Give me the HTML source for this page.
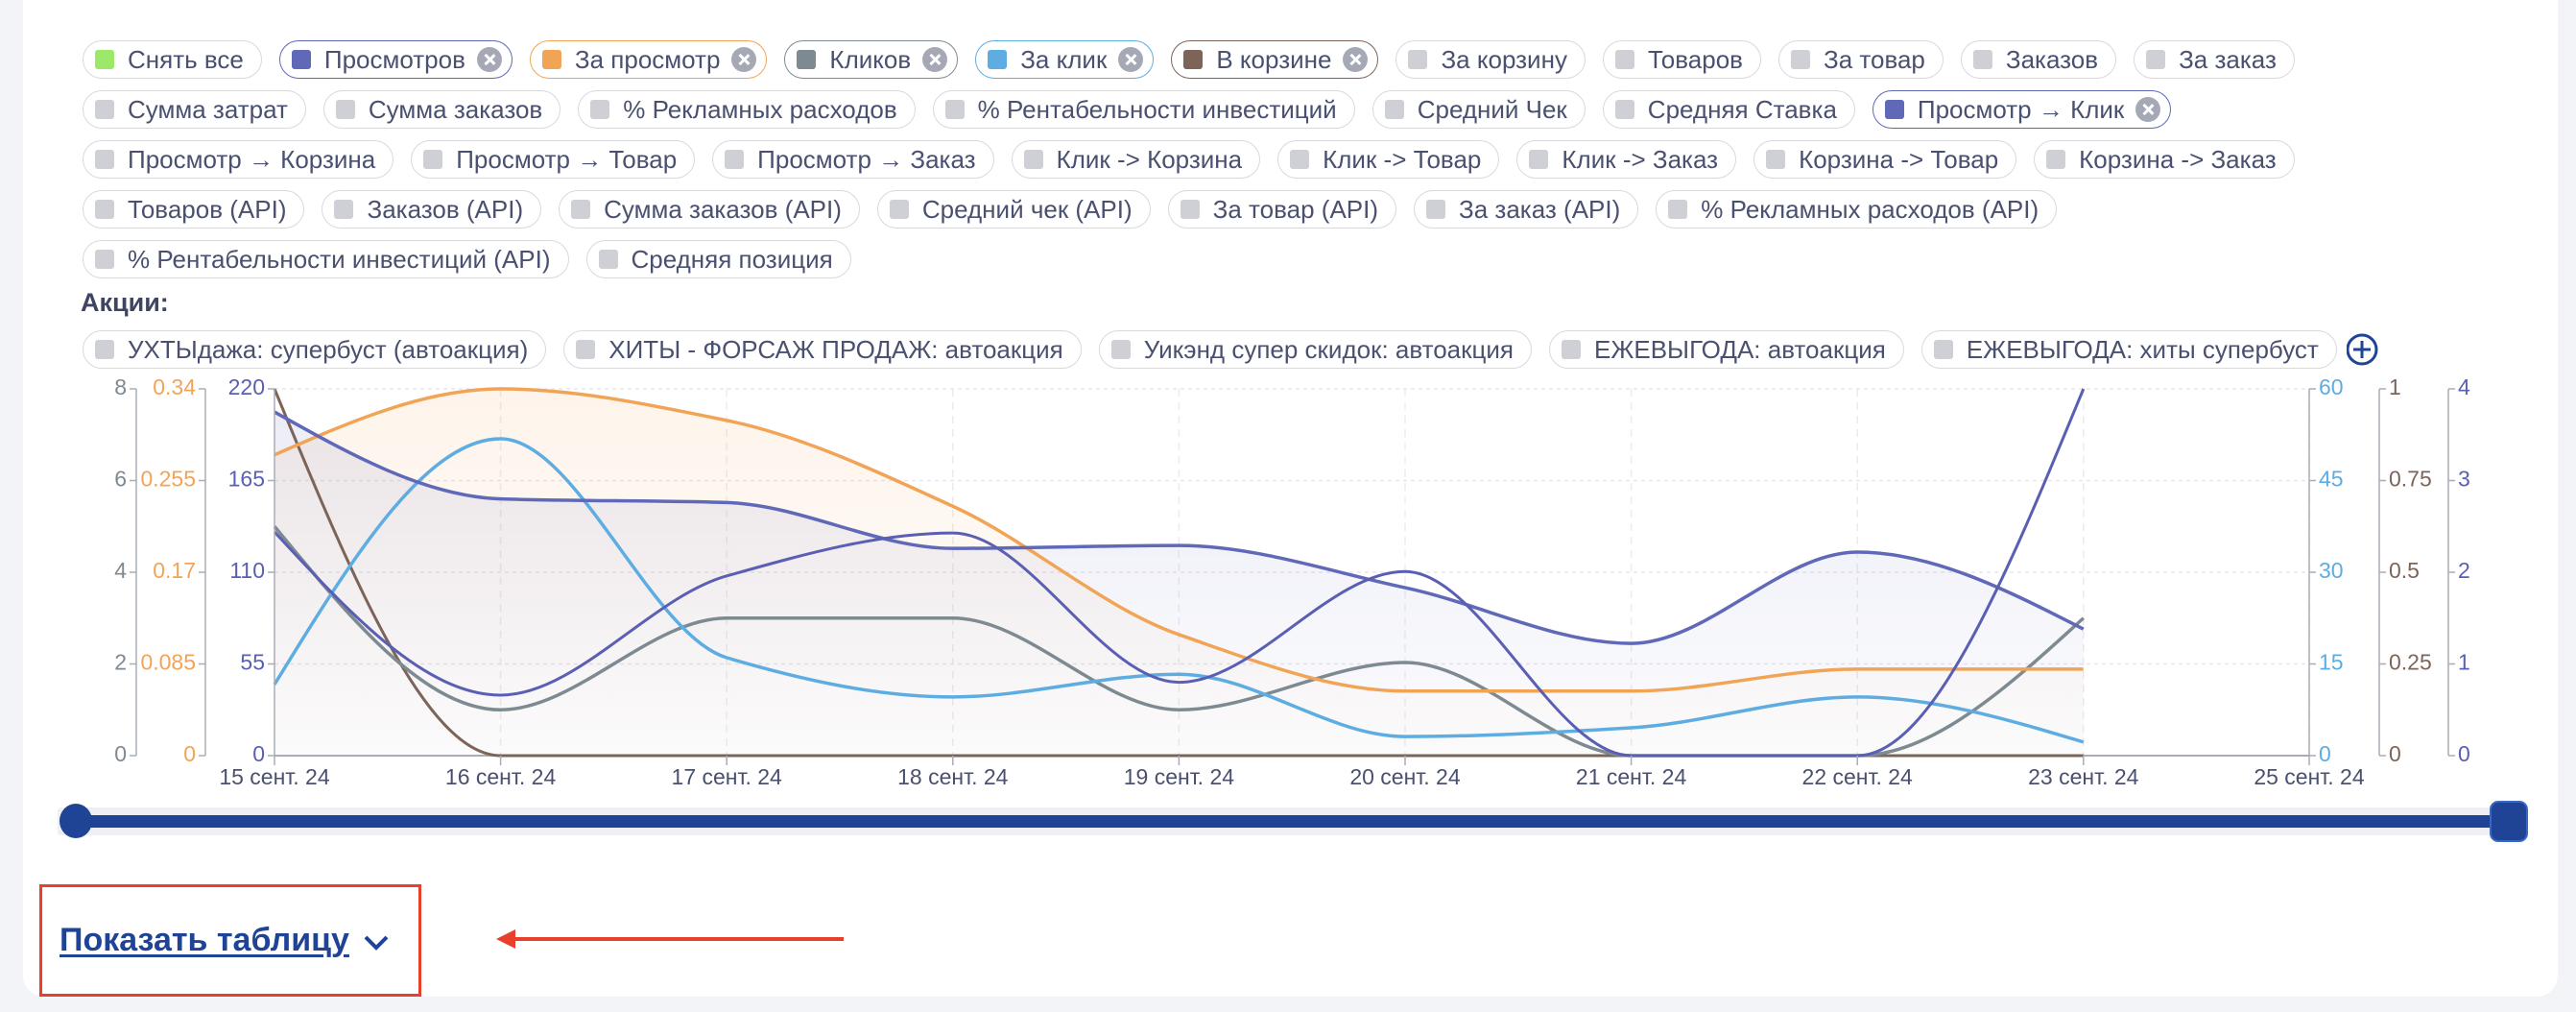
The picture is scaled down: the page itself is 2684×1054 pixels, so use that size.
<!DOCTYPE html>
<html><head><meta charset="utf-8"><style>
html,body{margin:0;padding:0}
body{width:2684px;height:1054px;background:#f3f4f7;position:relative;overflow:hidden;font-family:"Liberation Sans","DejaVu Sans",sans-serif}
.card{position:absolute;left:24px;top:-20px;width:2641px;height:1058px;background:#fff;border-radius:22px}
.row{position:absolute;left:86px;display:flex;gap:18px;height:40px}
.chip{height:38px;border:1.5px solid #d8d9df;border-radius:20px;display:flex;align-items:center;padding:0 18px 0 12px;font-size:26px;color:#4a5070;white-space:nowrap;background:#fff}
.sq{width:20px;height:20px;border-radius:3px;background:#cfd0d5;margin-right:14px;flex:none}
.x{width:26px;height:26px;border-radius:50%;background:#a5a9b5;margin-left:12px;margin-right:-8px;position:relative;flex:none}
.x:before,.x:after{content:"";position:absolute;left:12px;top:6px;width:2.5px;height:14px;background:#fff;transform:rotate(45deg)}
.x:after{transform:rotate(-45deg)}
</style></head><body>
<div class="card"></div>

<div class="row" style="top:42px">
<div class="chip"><span class="sq" style="background:#9ce868"></span>Снять все</div>
<div class="chip" style="border-color:#6068b8"><span class="sq" style="background:#6068b8"></span>Просмотров<span class="x"></span></div>
<div class="chip" style="border-color:#f2a456"><span class="sq" style="background:#f2a456"></span>За просмотр<span class="x"></span></div>
<div class="chip" style="border-color:#7d8a91"><span class="sq" style="background:#7d8a91"></span>Кликов<span class="x"></span></div>
<div class="chip" style="border-color:#5dade2"><span class="sq" style="background:#5dade2"></span>За клик<span class="x"></span></div>
<div class="chip" style="border-color:#7d6459"><span class="sq" style="background:#7d6459"></span>В корзине<span class="x"></span></div>
<div class="chip"><span class="sq"></span>За корзину</div>
<div class="chip"><span class="sq"></span>Товаров</div>
<div class="chip"><span class="sq"></span>За товар</div>
<div class="chip"><span class="sq"></span>Заказов</div>
<div class="chip"><span class="sq"></span>За заказ</div>
</div>
<div class="row" style="top:94px">
<div class="chip"><span class="sq"></span>Сумма затрат</div>
<div class="chip"><span class="sq"></span>Сумма заказов</div>
<div class="chip"><span class="sq"></span>% Рекламных расходов</div>
<div class="chip"><span class="sq"></span>% Рентабельности инвестиций</div>
<div class="chip"><span class="sq"></span>Средний Чек</div>
<div class="chip"><span class="sq"></span>Средняя Ставка</div>
<div class="chip" style="border-color:#6068b8"><span class="sq" style="background:#6068b8"></span>Просмотр → Клик<span class="x"></span></div>
</div>
<div class="row" style="top:146px">
<div class="chip"><span class="sq"></span>Просмотр → Корзина</div>
<div class="chip"><span class="sq"></span>Просмотр → Товар</div>
<div class="chip"><span class="sq"></span>Просмотр → Заказ</div>
<div class="chip"><span class="sq"></span>Клик -&gt; Корзина</div>
<div class="chip"><span class="sq"></span>Клик -&gt; Товар</div>
<div class="chip"><span class="sq"></span>Клик -&gt; Заказ</div>
<div class="chip"><span class="sq"></span>Корзина -&gt; Товар</div>
<div class="chip"><span class="sq"></span>Корзина -&gt; Заказ</div>
</div>
<div class="row" style="top:198px">
<div class="chip"><span class="sq"></span>Товаров (API)</div>
<div class="chip"><span class="sq"></span>Заказов (API)</div>
<div class="chip"><span class="sq"></span>Сумма заказов (API)</div>
<div class="chip"><span class="sq"></span>Средний чек (API)</div>
<div class="chip"><span class="sq"></span>За товар (API)</div>
<div class="chip"><span class="sq"></span>За заказ (API)</div>
<div class="chip"><span class="sq"></span>% Рекламных расходов (API)</div>
</div>
<div class="row" style="top:250px">
<div class="chip"><span class="sq"></span>% Рентабельности инвестиций (API)</div>
<div class="chip"><span class="sq"></span>Средняя позиция</div>
</div>
<div style="position:absolute;left:84px;top:300px;font-size:27px;font-weight:bold;color:#3f4460">Акции:</div>
<div class="row" style="top:344px">
<div class="chip"><span class="sq"></span>УХТЫдажа: супербуст (автоакция)</div>
<div class="chip"><span class="sq"></span>ХИТЫ - ФОРСАЖ ПРОДАЖ: автоакция</div>
<div class="chip"><span class="sq"></span>Уикэнд супер скидок: автоакция</div>
<div class="chip"><span class="sq"></span>ЕЖЕВЫГОДА: автоакция</div>
<div class="chip"><span class="sq"></span>ЕЖЕВЫГОДА: хиты супербуст</div>
<svg width="36" height="40" viewBox="0 0 36 40" style="margin-left:-8px"><circle cx="16" cy="20" r="15" fill="none" stroke="#1f4496" stroke-width="3"/><path d="M16 11v18M7 20h18" stroke="#1f4496" stroke-width="3"/></svg>
</div>

<svg id="ch" width="2684" height="1054" style="position:absolute;left:0;top:0"></svg>

<div style="position:absolute;left:41px;top:921px;width:392px;height:111px;border:3px solid #e8402a"></div>
<div style="position:absolute;left:62px;top:960px;font-size:34px;font-weight:bold;color:#1f4496;text-decoration:underline;text-underline-offset:4px">Показать таблицу</div>
<svg style="position:absolute;left:376px;top:970px" width="34" height="24"><path d="M5 6l11 11 11-11" fill="none" stroke="#1f4496" stroke-width="4"/></svg>
<svg style="position:absolute;left:515px;top:966px" width="370" height="26"><path d="M20 12H364" stroke="#e8402a" stroke-width="4"/><path d="M2 12L22 2V22Z" fill="#e8402a"/></svg>

<script>
var X0=286,DX=235.6,YT=405,YB=787,H=YB-YT;
var s='';
function L(x1,y1,x2,y2,st){s+='<line x1="'+x1+'" y1="'+y1+'" x2="'+x2+'" y2="'+y2+'" '+st+'/>';}
function T(x,y,t,c,a){s+='<text x="'+x+'" y="'+y+'" fill="'+c+'" font-size="23" font-family="Liberation Sans, sans-serif" text-anchor="'+(a||'end')+'" dominant-baseline="middle">'+t+'</text>';}
for(var i=0;i<4;i++){var y=YT+i*H/4;L(X0,y,2406,y,'stroke="#e6e7eb" stroke-width="1.5" stroke-dasharray="4 4"');}
for(var i=1;i<=9;i++){var x=X0+i*DX;L(x,YT,x,YB,'stroke="#ececf0" stroke-width="1.5" stroke-dasharray="8 6"');}
function path(f){var n=f.length,xs=[],ys=[];for(var i=0;i<n;i++){xs.push(X0+i*DX);ys.push(YB-f[i]*H);}
var d=[],m=[];for(var i=0;i<n-1;i++)d.push((ys[i+1]-ys[i])/DX);
for(var i=0;i<n;i++){if(i==0||i==n-1)m.push(0);else m.push((d[i-1]*d[i]>0)?(2*d[i-1]*d[i]/(d[i-1]+d[i])):0);}
m[0]=(3*d[0]-m[1])/2; m[n-1]=(3*d[n-2]-m[n-2])/2;
if(d[0]==0)m[0]=0; if(d[n-2]==0)m[n-1]=0;
var p='M'+xs[0]+','+ys[0];for(var i=0;i<n-1;i++){var h=DX/3;p+='C'+(xs[i]+h)+','+(ys[i]+m[i]*h)+' '+(xs[i+1]-h)+','+(ys[i+1]-m[i+1]*h)+' '+xs[i+1]+','+ys[i+1];}
return p;}
var orange=[0.82,1.0,0.914,0.68,0.33,0.176,0.176,0.236,0.236];
var views=[0.937,0.70,0.69,0.565,0.573,0.458,0.306,0.555,0.345];
var blue=[0.194,0.864,0.267,0.16,0.222,0.052,0.076,0.16,0.037];
var gray=[0.625,0.125,0.375,0.375,0.125,0.254,0,0,0.375];
var brown=[1,0,0,0,0,0,0,0,0];
var p2k=[0.61,0.165,0.49,0.607,0.2,0.502,0,0,1.0];
var XE=X0+8*DX;
s='<defs><linearGradient id="go" x1="0" y1="0" x2="0" y2="1"><stop offset="0" stop-color="#f2a456" stop-opacity="0.12"/><stop offset="1" stop-color="#f2a456" stop-opacity="0.01"/></linearGradient><linearGradient id="gp" x1="0" y1="0" x2="0" y2="1"><stop offset="0" stop-color="#6068b8" stop-opacity="0.12"/><stop offset="1" stop-color="#6068b8" stop-opacity="0.02"/></linearGradient></defs>'+s;
s+='<path d="'+path(orange)+'L'+XE+','+YB+'L'+X0+','+YB+'Z" fill="url(#go)"/>';
s+='<path d="'+path(views)+'L'+XE+','+YB+'L'+X0+','+YB+'Z" fill="url(#gp)"/>';
L(X0,YB,2406,YB,'stroke="#a9adb5" stroke-width="2"');
function line(f,c,w){s+='<path d="'+path(f)+'" fill="none" stroke="'+c+'" stroke-width="'+w+'"/>';}
line(brown,'#7d6459',3);line(gray,'#7d8a91',3.5);line(blue,'#5dade2',3.5);line(orange,'#f2a456',3.5);line(views,'#6068b8',3.5);line(p2k,'#5a5fb3',3);
function axis(x,side,labels,c){L(x,YT,x,YB,'stroke="#a9adb5" stroke-width="1.5"');for(var i=0;i<5;i++){var y=YB-i*H/4;L(x,y,x+(side<0?-7:7),y,'stroke="#a9adb5" stroke-width="1.5"');T(side<0?x-10:x+10,y,labels[i],c,side<0?'end':'start');}}
axis(142,-1,['0','2','4','6','8'],'#7d8a91');
axis(214,-1,['0','0.085','0.17','0.255','0.34'],'#f2a456');
axis(286,-1,['0','55','110','165','220'],'#5a5fb3');
axis(2406,1,['0','15','30','45','60'],'#5dade2');
axis(2479,1,['0','0.25','0.5','0.75','1'],'#7d6459');
axis(2551,1,['0','1','2','3','4'],'#5a5fb3');
var dates=['15','16','17','18','19','20','21','22','23'];
for(var i=0;i<9;i++){var x=X0+i*DX;L(x,YB,x,YB+10,'stroke="#a9adb5" stroke-width="1.5"');T(x,811,dates[i]+' сент. 24','#4a5070','middle');}
L(2406,YB,2406,YB+10,'stroke="#a9adb5" stroke-width="1.5"');T(2406,811,'25 сент. 24','#4a5070','middle');
s+='<rect x="60" y="841" width="2560" height="29" fill="#eef0f5" rx="3"/>';
s+='<rect x="78" y="849" width="2536" height="13" fill="#1f4496"/>';
s+='<ellipse cx="79" cy="855" rx="17" ry="18" fill="#1f4496"/>';
s+='<rect x="2595" y="835" width="38" height="41" rx="8" fill="#1f4496" stroke="#3a66c8" stroke-width="2"/>';
document.getElementById('ch').innerHTML=s;
</script>
</body></html>
